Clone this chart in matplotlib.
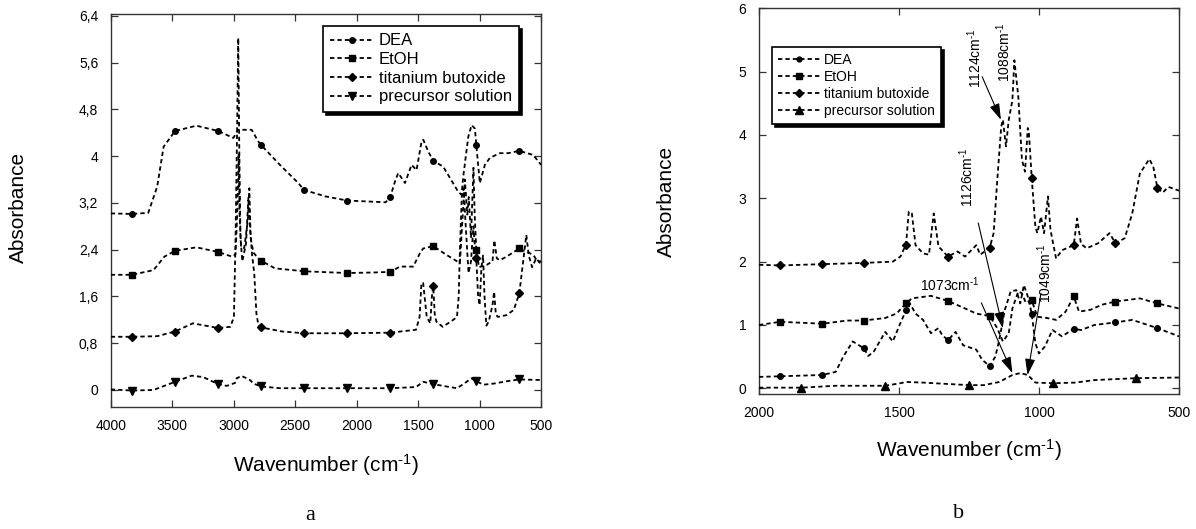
import numpy as np
import matplotlib
matplotlib.use('Agg')
import matplotlib.pyplot as plt
from matplotlib.lines import Line2D

plt.rcParams['font.family'] = ['Liberation Sans', 'DejaVu Sans']
plt.rcParams['mathtext.fontset'] = 'custom'
plt.rcParams['mathtext.rm'] = 'Liberation Sans'
plt.rcParams['mathtext.it'] = 'Liberation Sans:italic'
plt.rcParams['xtick.direction'] = 'in'
plt.rcParams['ytick.direction'] = 'in'

# ---------------- panel a: 4000-500 cm-1 ----------------
a_marks = [3827, 3477, 3127, 2777, 2427, 2077, 1727, 1377, 1027, 677]

a_dea_w = [4000, 3827, 3695, 3622, 3570, 3477, 3303, 3127, 3003, 2963, 2854, 2800, 2777,
           2624, 2475, 2427, 2252, 2077, 1764, 1727, 1689, 1662, 1607, 1553, 1513, 1472,
           1458, 1418, 1377, 1296, 1174, 1147, 1133, 1092, 1065, 1038, 1027, 998, 957,
           916, 835, 767, 677, 564, 500]
a_dea = [3.02, 3.01, 3.03, 3.48, 4.16, 4.43, 4.52, 4.43, 4.31, 4.45, 4.45, 4.25, 4.19,
         3.85, 3.54, 3.42, 3.31, 3.24, 3.21, 3.30, 3.56, 3.71, 3.54, 3.85, 3.76, 4.25,
         4.28, 4.08, 3.92, 3.82, 3.39, 3.34, 3.65, 4.33, 4.53, 4.47, 4.19, 3.54, 3.85,
         3.97, 4.05, 4.05, 4.09, 4.02, 3.85]

a_etoh_w = [4000, 3827, 3652, 3564, 3477, 3303, 3127, 3013, 2985, 2968, 2960, 2952, 2940,
            2915, 2885, 2873, 2862, 2840, 2800, 2777, 2664, 2427, 2077, 1851, 1727, 1648,
            1540, 1485, 1459, 1377, 1269, 1160, 1140, 1120, 1100, 1088, 1070, 1050, 1040,
            1027, 1005, 942, 895, 880, 860, 835, 781, 677, 640, 600, 560, 530, 500]
a_etoh = [1.97, 1.97, 2.05, 2.28, 2.38, 2.44, 2.36, 2.28, 2.32, 3.20, 4.05, 3.00, 2.45,
          2.42, 2.90, 3.45, 2.60, 2.35, 2.25, 2.21, 2.08, 2.03, 2.00, 2.01, 2.02, 2.11,
          2.11, 2.34, 2.42, 2.46, 2.31, 2.17, 2.90, 3.60, 3.00, 3.30, 2.60, 3.80, 3.00,
          2.40, 2.10, 2.14, 2.20, 2.56, 2.25, 2.22, 2.28, 2.42, 2.38, 2.35, 2.30, 2.20, 2.20]

a_ti_w = [4000, 3827, 3622, 3477, 3332, 3127, 3027, 2998, 2985, 2972, 2963, 2955, 2945,
          2930, 2900, 2880, 2868, 2850, 2833, 2815, 2800, 2777, 2606, 2427, 2077, 1727,
          1517, 1488, 1473, 1459, 1430, 1401, 1388, 1377, 1365, 1352, 1300, 1214, 1184,
          1170, 1160, 1145, 1130, 1110, 1090, 1070, 1050, 1040, 1027, 1012, 1000, 985,
          972, 960, 945, 926, 895, 882, 868, 853, 780, 722, 677, 640, 620, 600, 573,
          540, 500]
a_ti = [0.91, 0.91, 0.92, 1.00, 1.14, 1.06, 1.08, 1.25, 2.60, 4.50, 6.02, 4.20, 2.60,
        2.20, 2.50, 3.30, 2.80, 2.30, 2.00, 1.30, 1.12, 1.07, 1.00, 0.97, 0.97, 0.98,
        1.03, 1.25, 1.83, 1.83, 1.25, 1.14, 1.60, 1.77, 1.30, 1.17, 1.08, 1.20, 1.25,
        1.60, 2.40, 3.30, 3.45, 2.70, 2.00, 2.20, 2.80, 2.50, 2.25, 1.60, 1.45, 2.10,
        2.30, 1.60, 1.10, 1.17, 1.45, 1.68, 1.30, 1.25, 1.28, 1.37, 1.65, 2.30, 2.65,
        2.30, 2.10, 2.25, 2.15]

a_pre_w = [4000, 3827, 3653, 3545, 3477, 3342, 3247, 3127, 3057, 2989, 2976, 2935, 2867,
           2840, 2777, 2623, 2427, 2077, 1727, 1517, 1459, 1377, 1270, 1184, 1125, 1067,
           1027, 969, 882, 777, 677, 500]
a_pre = [0.01, -0.01, 0.00, 0.085, 0.14, 0.245, 0.22, 0.10, 0.07, 0.12, 0.20, 0.24, 0.17,
         0.11, 0.06, 0.03, 0.03, 0.03, 0.03, 0.05, 0.14, 0.10, 0.06, 0.03, 0.11, 0.20,
         0.15, 0.09, 0.11, 0.15, 0.18, 0.17]

# ---------------- panel b: 2000-500 cm-1 ----------------
b_marks = [1924, 1774, 1625, 1475, 1325, 1176, 1026, 876, 727, 577]
b_tri_marks = [1849, 1550, 1251, 951, 652]

b_dea_w = [2000, 1924, 1774, 1726, 1699, 1665, 1625, 1610, 1590, 1549, 1522, 1495, 1475,
           1461, 1441, 1414, 1386, 1359, 1346, 1325, 1298, 1271, 1224, 1203, 1176, 1156,
           1142, 1122, 1101, 1081, 1067, 1054, 1040, 1026, 1013, 1000, 979, 952, 918, 876,
           850, 802, 727, 667, 577, 500]
b_dea = [0.18, 0.19, 0.21, 0.26, 0.50, 0.74, 0.63, 0.51, 0.58, 0.89, 0.74, 1.03, 1.23,
         1.34, 1.18, 1.08, 0.87, 0.95, 0.84, 0.76, 0.89, 0.68, 0.61, 0.45, 0.35, 0.50,
         0.76, 1.24, 1.53, 1.55, 1.34, 1.63, 1.45, 1.18, 0.71, 0.55, 0.66, 0.92, 0.82, 0.94,
         0.92, 1.00, 1.04, 1.08, 0.95, 0.82]

b_etoh_w = [2000, 1924, 1774, 1685, 1625, 1549, 1509, 1475, 1454, 1386, 1325, 1264, 1224,
            1176, 1149, 1129, 1108, 1095, 1074, 1061, 1047, 1026, 1006, 972, 939, 905, 876,
            857, 816, 775, 727, 640, 577, 500]
b_etoh = [1.00, 1.05, 1.02, 1.07, 1.07, 1.11, 1.18, 1.34, 1.42, 1.46, 1.38, 1.26, 1.18,
          1.14, 0.95, 0.74, 0.87, 1.26, 1.53, 1.50, 1.35, 1.39, 1.13, 1.11, 1.08, 1.21, 1.45,
          1.21, 1.24, 1.32, 1.37, 1.42, 1.34, 1.26]

b_ti_w = [2000, 1924, 1774, 1625, 1522, 1495, 1475, 1465, 1454, 1441, 1414, 1393, 1376,
          1359, 1325, 1291, 1264, 1224, 1210, 1176, 1162, 1149, 1135, 1129, 1118, 1108,
          1095, 1088, 1074, 1061, 1050, 1040, 1036, 1026, 1013, 1006, 993, 982, 968, 959,
          939, 918, 876, 864, 850, 830, 789, 748, 727, 694, 667, 640, 606, 592, 577, 558,
          538, 500]
b_ti = [1.95, 1.94, 1.96, 1.98, 2.00, 2.08, 2.27, 2.79, 2.76, 2.26, 2.13, 2.11, 2.76,
        2.24, 2.08, 2.16, 2.08, 2.26, 2.11, 2.22, 2.45, 3.29, 4.13, 4.24, 3.82, 4.24,
        4.55, 5.18, 4.61, 3.61, 3.42, 4.11, 4.03, 3.32, 2.55, 2.45, 2.71, 2.45, 3.03, 2.50,
        2.05, 2.18, 2.26, 2.68, 2.28, 2.21, 2.29, 2.45, 2.29, 2.37, 2.76, 3.39, 3.62, 3.50,
        3.16, 3.09, 3.18, 3.12]

b_pre_w = [2000, 1849, 1726, 1550, 1495, 1475, 1414, 1251, 1197, 1142, 1095, 1067, 1040,
           1013, 951, 870, 802, 652, 500]
b_pre = [0.01, 0.01, 0.04, 0.04, 0.08, 0.10, 0.09, 0.05, 0.05, 0.10, 0.21, 0.24, 0.21,
         0.09, 0.08, 0.09, 0.13, 0.16, 0.17]

names = ['DEA', 'EtOH', 'titanium butoxide', 'precursor solution']
a_ticks = [0, 0.8, 1.6, 2.4, 3.2, 4, 4.8, 5.6, 6.4]
a_ticklabels = ['0', '0,8', '1,6', '2,4', '3,2', '4', '4,8', '5,6', '6,4']

# superscript with a plain hyphen, as in the original
CM = 'cm$^{\u2010 1}$'.replace(' ', '')

# peak labels: text, text position, arrow tail, arrow head
b_notes = [
    ('1124' + CM, (1231, 5.21), (1203, 4.92), (1136, 4.24)),
    ('1088' + CM, (1126, 5.31), None, None),
    ('1126' + CM, (1258, 3.33), (1217, 2.61), (1129, 0.95)),
    ('1049' + CM, (980, 1.82), (993, 1.50), (1041, 0.21)),
]
b_note_flat = ('1073' + CM, (1319, 1.63), (1206, 1.35), (1095, 0.24))

LS = (0, (2.4, 1.7))
LW = 1.3


def spectrum(ax, w, a, marks, marker, ms):
    w = np.asarray(w)
    a = np.asarray(a)
    ax.plot(w, a, color='k', lw=LW, linestyle=LS, zorder=3)
    idx = np.isin(w, marks)
    ax.plot(w[idx], a[idx], linestyle='none', marker=marker, ms=ms,
            color='k', zorder=4)


def frame(ax):
    for s in ax.spines.values():
        s.set_color('#333333')
        s.set_linewidth(1.0)
    ax.tick_params(top=True, right=True, length=5, width=0.9, color='#333333',
                   labelsize=10, pad=9)


def legend(ax, markers, anchor, fs, hl, sp):
    handles = [Line2D([], [], color='k', lw=LW, linestyle=LS, marker=m, ms=s)
               for m, s in markers]
    leg = ax.legend(handles, names, loc='upper left', bbox_to_anchor=anchor,
                    bbox_transform=ax.figure.transFigure, borderaxespad=0,
                    fancybox=False, shadow={'color': 'k', 'alpha': 1},
                    edgecolor='k', framealpha=1, fontsize=fs, handlelength=hl,
                    handletextpad=0.3, labelspacing=sp, borderpad=0.45)
    leg.get_frame().set_linewidth(1.2)


fig = plt.figure(figsize=(11.96, 5.29), dpi=100)

# panel a
axa = fig.add_axes([0.0926, 0.2312, 0.3598, 0.7423])
spectrum(axa, a_dea_w, a_dea, a_marks, 'o', 4)
spectrum(axa, a_etoh_w, a_etoh, a_marks, 's', 4.2)
spectrum(axa, a_ti_w, a_ti, a_marks, 'D', 4.3)
spectrum(axa, a_pre_w, a_pre, a_marks, 'v', 6)
axa.set_xlim(4000, 500)
axa.set_ylim(-0.286, 6.43)
axa.set_xticks([4000, 3500, 3000, 2500, 2000, 1500, 1000, 500])
axa.set_yticks(a_ticks)
axa.set_yticklabels(a_ticklabels)
frame(axa)
legend(axa, [('o', 4), ('s', 4.2), ('D', 4.3), ('v', 6)], (0.270, 0.951), 12, 2.6, 0.22)

# panel b
axb = fig.add_axes([0.6346, 0.2552, 0.3512, 0.7291])
spectrum(axb, b_dea_w, b_dea, b_marks, 'o', 4)
spectrum(axb, b_etoh_w, b_etoh, b_marks, 's', 4.2)
spectrum(axb, b_ti_w, b_ti, b_marks, 'D', 4.3)
spectrum(axb, b_pre_w, b_pre, b_tri_marks, '^', 6)
axb.set_xlim(2000, 500)
axb.set_ylim(-0.09, 6)
axb.set_xticks([2000, 1500, 1000, 500])
axb.set_yticks([0, 1, 2, 3, 4, 5, 6])
frame(axb)
legend(axb, [('o', 3.5), ('s', 4), ('D', 4), ('^', 5.5)], (0.6455, 0.911), 10, 3.0, 0.2)

arrow = dict(arrowstyle='-|>,head_length=0.7,head_width=0.22', color='k', lw=0.8,
             shrinkA=0, shrinkB=0, mutation_scale=14)
for text, tpos, tail, head in b_notes:
    axb.text(tpos[0], tpos[1], text, rotation=90, ha='center', va='center', fontsize=10)
    if tail is not None:
        axb.annotate('', xy=head, xytext=tail, arrowprops=arrow)
text, tpos, tail, head = b_note_flat
axb.text(tpos[0], tpos[1], text, ha='center', va='center', fontsize=10)
axb.annotate('', xy=head, xytext=tail, arrowprops=arrow)

# axis titles and panel letters
xlab = 'Wavenumber (' + CM + ')'
fig.text(18 / 1196, 1 - 207.5 / 529, 'Absorbance', rotation=90, ha='center', va='center', fontsize=15)
fig.text(666.5 / 1196, 1 - 201.7 / 529, 'Absorbance', rotation=90, ha='center', va='center', fontsize=15)
fig.text(326 / 1196, 1 - 465 / 529, xlab, ha='center', va='center', fontsize=15)
fig.text(969 / 1196, 1 - 450 / 529, xlab, ha='center', va='center', fontsize=15)
fig.text(310 / 1196, 1 - 515 / 529, 'a', ha='center', va='center', fontsize=16, family='Liberation Serif')
fig.text(959 / 1196, 1 - 513 / 529, 'b', ha='center', va='center', fontsize=16, family='Liberation Serif')

fig.savefig('out.png', dpi=100)
